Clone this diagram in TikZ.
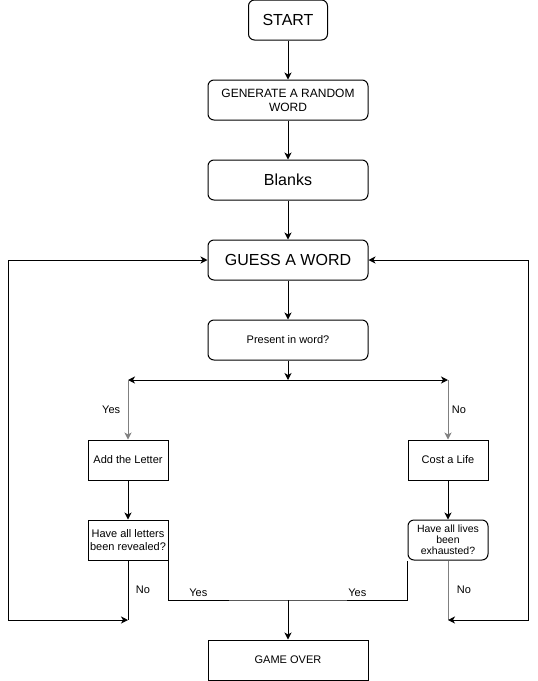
\documentclass[tikz,border=0pt]{standalone}
\usepackage{fontspec}
\setmainfont{Liberation Sans}
\usetikzlibrary{shapes,arrows.meta}

\begin{document}
\begin{tikzpicture}[->,>={Stealth[length=7pt,width=7pt,inset=2pt]},auto,node distance=80pt,line width=1pt,x=1pt,y=1pt,
    font=\fontsize{11}{13}\selectfont]
\tikzstyle{block}=[draw=black,rounded corners=6pt,minimum width=160pt,minimum height=40pt,align=center,inner sep=2pt]
\tikzstyle{square}=[block,rounded corners=0pt,minimum width=80pt]
\tikzstyle{big}=[font=\fontsize{16}{19}\selectfont]
\useasboundingbox (0,0) rectangle (538,-681);
\node[block,big,minimum width=79pt] (1) at (288,-20) {START};
\node[block,font=\fontsize{12}{14}\selectfont][below of=1](2){GENERATE A RANDOM\\WORD};
\node[block,big][below of=2](3){Blanks};
\node[block,big][below of=3](4){GUESS A WORD};
\node[block][below of=4](5){Present in word?};
\node[square][node distance=120pt,below of=5,xshift=-160pt](6){Add the Letter};
\node[square][below of=6](7){Have all letters\\been revealed?};
\node[square][node distance=120pt,below of=5,xshift=160pt](8){Cost a Life};
\node[block,minimum width=80pt,inner sep=1pt,font=\fontsize{10.5}{11}\selectfont][below of=8](9){Have all lives\\been\\exhausted?};
\node[square,minimum width=160pt][node distance=320pt,below of=5](10){GAME OVER};
\coordinate[node distance=40pt,below of=5](s);
\coordinate[above of=6](l);
\coordinate[above of=8](r);
\coordinate[below of=7](nl);
\coordinate[below of=9](nr);
\coordinate[node distance=260pt,below of=5](m);
% main column
\draw (1)--(2);
\draw (2)--(3);
\draw (3)--(4);
\draw (4)--(5);
\draw (5)--(s);
\draw[<->] (l)--(r);
% branches
\draw[draw=gray] (l)--node[left=4pt]{Yes}(6);
\draw[draw=gray] (r)--node[right]{No}(8);
\draw (6)--(7);
\draw (8)--(9);
% back to the guess
\draw[-] (7)--node[right=4pt]{No}(nl);
\draw[<->] (nl)--++(-120,0)|-(4);
\draw[-,draw=gray] (9)--node[right=5pt]{No}(nr);
\draw[<->] (nr)--++(80,0)|-(4);
% game over
\draw[-] (7.south east)|-node[pos=0.625,above]{Yes}(m)-|node[pos=0.29,above]{Yes}(9.south west);
\draw (m)--(10);
\end{tikzpicture}
\end{document}
